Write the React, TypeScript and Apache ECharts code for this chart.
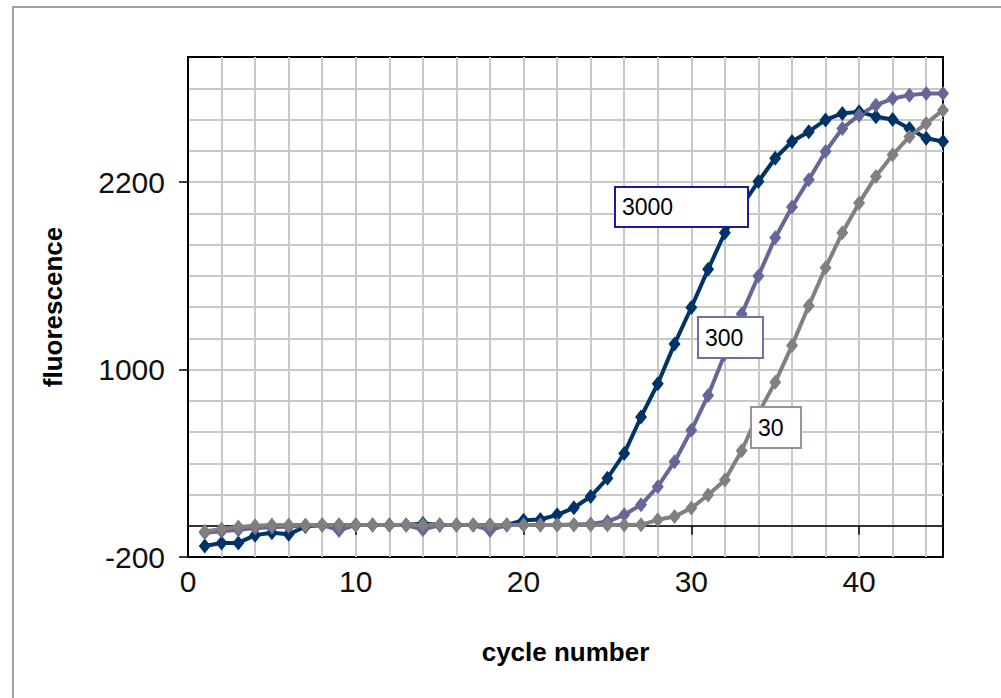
import React, { useEffect, useRef } from 'react';
import * as echarts from 'echarts';

// cycle numbers (x)
const cycles = [1, 2, 3, 4, 5, 6, 7, 8, 9, 10, 11, 12, 13, 14, 15, 16, 17, 18, 19, 20, 21, 22, 23, 24, 25, 26, 27, 28, 29, 30, 31, 32, 33, 34, 35, 36, 37, 38, 39, 40, 41, 42, 43, 44, 45];

// fluorescence readings per dilution
const fluor3000 = [-130, -110, -110, -60, -45, -55, -5, 5, 5, 5, 5, 5, 5, 15, 5, 5, 5, 5, 5, 35, 40, 70, 115, 187, 304, 463, 696, 909, 1164, 1397, 1641, 1875, 2045, 2204, 2352, 2459, 2522, 2597, 2639, 2650, 2618, 2600, 2543, 2480, 2459];
const fluor300 = [-45, -35, -25, -15, -10, -5, 0, 5, -30, 5, 5, 5, 5, -25, 5, 5, 5, -30, 5, 5, 5, 5, 8, 12, 27, 70, 134, 250, 410, 611, 834, 1100, 1355, 1599, 1843, 2040, 2214, 2395, 2543, 2628, 2692, 2734, 2756, 2766, 2766];
const fluor30 = [-36, -20, -8, 0, 5, 5, 5, 5, 5, 5, 5, 5, 5, 5, 5, 5, 5, 5, 5, 5, 5, 5, 5, 5, 5, 5, 6, 38, 59, 113, 197, 293, 480, 720, 919, 1153, 1408, 1652, 1875, 2066, 2236, 2374, 2490, 2575, 2660];

const seriesNames = ['3000', '300', '30'];
const xTickLabels = [0, 10, 20, 30, 40];
const yTickLabels = [-200, 1000, 2200];

// data-space anchors (centres) of the series label boxes
const labelAnchors = [
  [29.42, 2042],
  [32.35, 1208],
  [35.02, 632],
];

export default function App() {
  const ref = useRef<HTMLDivElement>(null);
  useEffect(() => {
    if (!ref.current) return;
    const chart = echarts.init(ref.current, null, { renderer: 'svg' });
    const font = '"Liberation Sans", Arial, sans-serif';
    const colors = ['#003366', '#666699', '#808080'];
    const boxColors = ['#1c1c94', '#6f6fa8', '#8c9c8c'];
    const boxSizes = [
      [133, 40],
      [65, 41],
      [50, 41],
    ];
    const all = [fluor3000, fluor300, fluor30];
    const gridLine = { color: '#c8c8c8', width: 2 };
    const frame = {
      type: 'rect',
      silent: true,
      z: -10,
      shape: { x: 13, y: 7, width: 1100, height: 800 },
      style: { fill: 'none', stroke: '#a0a0a0', lineWidth: 2 },
    };

    const option: any = {
      animation: false,
      backgroundColor: '#ffffff',
      textStyle: { fontFamily: font },
      graphic: [frame],
      grid: {
        left: 188,
        right: 58,
        top: 57,
        bottom: 141,
        show: true,
        borderColor: '#000',
        borderWidth: 2,
        backgroundColor: '#fff',
      },
      xAxis: [
        {
          type: 'value',
          min: 0,
          max: 45,
          interval: 2,
          position: 'bottom',
          axisLine: { show: false, onZero: false },
          axisTick: { show: false },
          splitLine: { show: true, showMinLine: false, showMaxLine: false, lineStyle: gridLine },
          axisLabel: {
            show: true,
            margin: 9,
            fontSize: 30,
            color: '#111',
            fontFamily: font,
            formatter: (v: number) => (xTickLabels.includes(v) ? String(v) : ''),
          },
          name: 'cycle number',
          nameLocation: 'middle',
          nameGap: 82,
          nameTextStyle: { fontSize: 26, fontWeight: 'bold', color: '#000', fontFamily: font },
        },
        {
          type: 'value',
          min: 0,
          max: 45,
          interval: 10,
          position: 'bottom',
          axisLine: { show: true, onZero: true, onZeroAxisIndex: 0, lineStyle: { color: '#000', width: 1.5 } },
          axisTick: { show: true, inside: false, length: 9, customValues: xTickLabels, lineStyle: { color: '#000', width: 1.5 } },
          axisLabel: { show: false },
          splitLine: { show: false },
        },
      ],
      yAxis: [
        {
          type: 'value',
          min: -200,
          max: 3000,
          interval: 200,
          position: 'left',
          axisLine: { show: false, onZero: false },
          axisTick: { show: false },
          axisLabel: { show: false },
          splitLine: { show: true, showMinLine: false, showMaxLine: false, lineStyle: gridLine },
          name: 'fluorescence',
          nameLocation: 'middle',
          nameGap: 122,
          nameTextStyle: { fontSize: 26, fontWeight: 'bold', color: '#000', fontFamily: font },
        },
        {
          type: 'value',
          min: -200,
          max: 3000,
          interval: 1200,
          position: 'left',
          axisLine: { show: true, onZero: false, lineStyle: { color: '#000', width: 2 } },
          axisTick: { show: true, inside: false, length: 9, customValues: yTickLabels, lineStyle: { color: '#000', width: 1.5 } },
          axisLabel: {
            show: true,
            customValues: yTickLabels,
            margin: 23,
            fontSize: 30,
            color: '#111',
            fontFamily: font,
            formatter: (v: number) => String(v),
          },
          splitLine: { show: false },
        },
      ],
      series: all.map((vals, i) => ({
        name: seriesNames[i],
        type: 'line',
        xAxisIndex: 0,
        yAxisIndex: 0,
        data: cycles.map((c, j) => [c, vals[j]]),
        symbol: 'diamond',
        symbolSize: [12, 15],
        showSymbol: true,
        lineStyle: { color: colors[i], width: 4 },
        itemStyle: { color: colors[i] },
      })),
    };
    chart.setOption(option);

    const boxes = labelAnchors.map((a, i) => {
      const p = chart.convertToPixel({ xAxisIndex: 0, yAxisIndex: 0 }, a) as number[];
      const [w, h] = boxSizes[i];
      return {
        type: 'group',
        x: Math.round(p[0] - w / 2),
        y: Math.round(p[1] - h / 2),
        z: 100,
        silent: true,
        children: [
          {
            type: 'rect',
            z: 100,
            shape: { x: 0, y: 0, width: w, height: h },
            style: { fill: '#fff', stroke: boxColors[i], lineWidth: 2 },
          },
          {
            type: 'text',
            z: 101,
            x: 7,
            y: h / 2,
            style: {
              text: seriesNames[i],
              fontSize: 23,
              fontFamily: font,
              fill: '#000',
              verticalAlign: 'middle',
              align: 'left',
            },
          },
        ],
      };
    });
    chart.setOption({ graphic: [frame, ...boxes] }, { replaceMerge: ['graphic'] });
    return () => chart.dispose();
  }, []);
  return <div ref={ref} style={{ position: 'fixed', left: 0, top: 0, width: 1001, height: 698 }} />;
}
